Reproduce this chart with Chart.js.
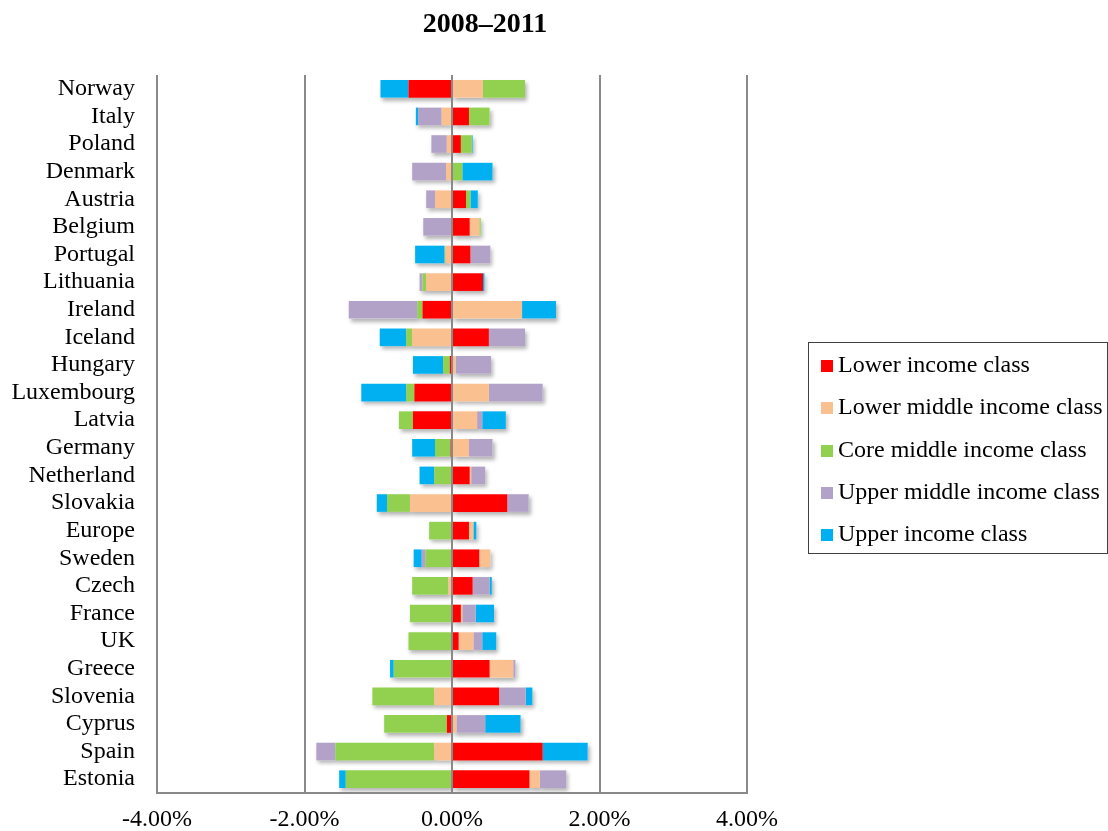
<!DOCTYPE html>
<html>
<head>
<meta charset="utf-8">
<script src="https://cdn.jsdelivr.net/npm/chart.js@4/dist/chart.umd.min.js"></script>
<style>
  body { margin: 0; background: #fff; }
  #wrap { position: relative; width: 1108px; height: 831px; font-family: 'Liberation Serif', 'Times New Roman', serif; }
  #title { position: absolute; left: 0; width: 970px; top: 9px; text-align: center; font-size: 28px; line-height: 28px; font-weight: bold; }
  #legend { position: absolute; left: 808px; top: 342px; width: 298px; height: 210px; border: 1px solid #404040; }
  .item { position: absolute; left: 12px; font-size: 24px; line-height: 24px; white-space: nowrap; }
  .item span { display: inline-block; width: 12px; height: 12px; margin-right: 5px; }
</style>
</head>
<body>
<div id="wrap">
  <canvas id="bars" width="1108" height="831"></canvas>
  <div id="title">2008–2011</div>
  <div id="legend"></div>
</div>
<script>
// 값은 % 단위, 위(Norway)부터 아래(Estonia) 순서
const countries = ['Norway','Italy','Poland','Denmark','Austria','Belgium','Portugal','Lithuania','Ireland','Iceland','Hungary','Luxembourg','Latvia','Germany','Netherland','Slovakia','Europe','Sweden','Czech','France','UK','Greece','Slovenia','Cyprus','Spain','Estonia'];

const lowerIncome  = [-0.59, 0.23, 0.12, 0.00, 0.19, 0.24, 0.25, 0.42, -0.40, 0.50, -0.03, -0.51, -0.53, -0.02, 0.24, 0.75, 0.23, 0.37, 0.28, 0.12, 0.09, 0.51, 0.64, -0.07, 1.23, 1.05];
const lowerMiddle  = [0.42, -0.14, -0.07, -0.08, -0.23, 0.13, -0.09, -0.35, 0.95, -0.54, 0.05, 0.50, 0.34, 0.23, 0.02, -0.57, 0.06, 0.15, -0.05, 0.02, 0.20, 0.32, -0.24, 0.06, -0.24, 0.14];
const coreMiddle   = [0.57, 0.28, 0.15, 0.14, 0.06, 0.02, -0.01, -0.05, -0.07, -0.08, -0.09, -0.11, -0.19, -0.21, -0.24, -0.31, -0.31, -0.36, -0.49, -0.57, -0.59, -0.79, -0.84, -0.85, -1.34, -1.44];
const upperMiddle  = [0.00, -0.32, -0.21, -0.46, -0.12, -0.39, 0.27, -0.04, -0.93, 0.49, 0.48, 0.73, 0.07, 0.32, 0.19, 0.29, 0.00, -0.05, 0.23, 0.18, 0.12, 0.03, 0.36, 0.39, -0.26, 0.36];
const upperIncome  = [-0.38, -0.03, 0.01, 0.41, 0.10, 0.00, -0.40, 0.02, 0.46, -0.36, -0.41, -0.61, 0.32, -0.31, -0.20, -0.14, 0.04, -0.11, 0.03, 0.25, 0.19, -0.05, 0.09, 0.48, 0.61, -0.09];

const classNames = ['Lower income class','Lower middle income class','Core middle income class','Upper middle income class','Upper income class'];
const classColors = ['#FF0000','#FAC090','#92D050','#B3A2C7','#00B0F0'];
const xTicks = [-4, -2, 0, 2, 4];

// 엑셀 같은 그림자: 막대 전체 뒤에 먼저 그린다
const barShadow = {
    id: 'barShadow',
    beforeDatasetsDraw(chart) {
        const ctx = chart.ctx;
        ctx.save();
        ctx.shadowColor = 'rgba(0,0,0,0.3)';
        ctx.shadowBlur = 4;
        ctx.shadowOffsetX = 2;
        ctx.shadowOffsetY = 3;
        ctx.fillStyle = '#ffffff';
        chart.data.datasets.forEach((ds, i) => {
            chart.getDatasetMeta(i).data.forEach(bar => {
                const p = bar.getProps(['x', 'y', 'base', 'height'], true);
                const w = Math.abs(p.x - p.base);
                if (w > 0) ctx.fillRect(Math.min(p.x, p.base), p.y - p.height / 2, w, p.height);
            });
        });
        ctx.restore();
    }
};

const seriesData = [lowerIncome, lowerMiddle, coreMiddle, upperMiddle, upperIncome];
const axisFont = { family: "'Liberation Serif', 'Times New Roman', serif", size: 24 };

const ctx = document.getElementById('bars').getContext('2d');
const chart = new Chart(ctx, {
    type: 'bar',
    data: {
        labels: countries,
        datasets: classNames.map((name, i) => ({
            label: name,
            data: seriesData[i],
            backgroundColor: classColors[i],
            borderWidth: 0,
            categoryPercentage: 1,
            barPercentage: 0.64
        }))
    },
    options: {
        indexAxis: 'y',
        responsive: false,
        animation: false,
        layout: { padding: { left: 0, right: 361, top: 75, bottom: 0 } },
        plugins: {
            legend: { display: false },
            title: { display: false },
            tooltip: { enabled: false }
        },
        scales: {
            x: {
                stacked: true,
                min: -4,
                max: 4,
                afterBuildTicks: scale => { scale.ticks = xTicks.map(v => ({ value: v })); },
                afterFit: scale => { scale.height = 38; },
                grid: { color: '#898989', lineWidth: 2, drawTicks: false, z: 1 },
                border: { display: true, color: '#898989', width: 2, z: 1 },
                ticks: {
                    color: '#000',
                    font: axisFont,
                    padding: 12,
                    maxRotation: 0,
                    callback: v => v.toFixed(2) + '%'
                }
            },
            y: {
                stacked: true,
                afterFit: scale => { scale.width = 157; },
                grid: { display: false, drawTicks: false },
                border: { display: false },
                ticks: { color: '#000', font: axisFont, padding: 22, autoSkip: false }
            }
        }
    },
    plugins: [barShadow]
});

// 범례 (테두리 있는 상자)
const legendBox = document.getElementById('legend');
classNames.forEach((name, i) => {
    const item = document.createElement('div');
    item.className = 'item';
    item.style.top = (9 + i * 42.3) + 'px';
    item.innerHTML = '<span style="background:' + classColors[i] + '"></span>' + name;
    legendBox.appendChild(item);
});
</script>
</body>
</html>
